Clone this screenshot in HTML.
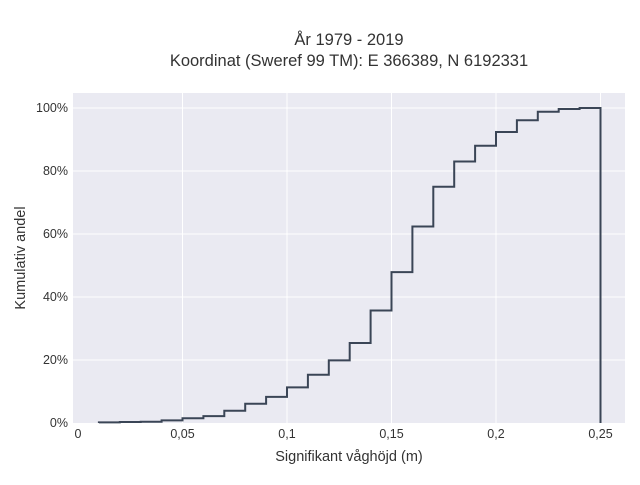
<!DOCTYPE html>
<html><head><meta charset="utf-8"><style>
body{margin:0;background:#fff;font-family:"Liberation Sans",sans-serif}
svg text{font-family:"Liberation Sans",sans-serif;fill:#333}
</style></head><body>
<svg id="chart" width="640" height="480" xmlns="http://www.w3.org/2000/svg">
<rect width="640" height="480" fill="#fff"/>
<text x="349" y="45" text-anchor="middle" font-size="16.5">År 1979 - 2019</text>
<text x="349" y="66" text-anchor="middle" font-size="16.5">Koordinat (Sweref 99 TM): E 366389, N 6192331</text>
<rect x="73" y="93" width="552" height="330" fill="#eaeaf2"/>
<g id="grid"></g><g id="ticks"></g>
<path id="step" fill="none" stroke="#3a4556" stroke-width="2"/>
<text x="349" y="461" text-anchor="middle" font-size="14.5">Signifikant våghöjd (m)</text>
<text transform="translate(25,258) rotate(-90)" text-anchor="middle" font-size="14.5">Kumulativ andel</text>
</svg>
<script>
const binStarts=[0.01,0.02,0.03,0.04,0.05,0.06,0.07,0.08,0.09,0.10,0.11,0.12,0.13,0.14,0.15,0.16,0.17,0.18,0.19,0.20,0.21,0.22,0.23,0.24];
const cumPct=[0.2,0.3,0.4,0.85,1.5,2.2,3.9,6.1,8.3,11.3,15.3,19.9,25.4,35.7,47.9,62.4,75.0,83.0,88.0,92.4,96.1,98.8,99.7,100];
const binWidth=0.01;
const xTicks=[0,0.05,0.1,0.15,0.2,0.25];
const xTickLabels=["0","0,05","0,1","0,15","0,2","0,25"];
const yTicks=[0,20,40,60,80,100];
const yTickLabels=["0%","20%","40%","60%","80%","100%"];
const X=v=>78+v*2090, Y=v=>423-v*3.15;
const ns="http://www.w3.org/2000/svg";
const grid=document.getElementById('grid'), ticks=document.getElementById('ticks');
function mk(t,a,p){const e=document.createElementNS(ns,t);for(const k in a)e.setAttribute(k,a[k]);p.appendChild(e);return e;}
xTicks.forEach((v,i)=>{
 if(v>0){const l=mk('line',{x1:X(v),x2:X(v),y1:93,y2:423,stroke:'#fff','stroke-width':1},grid);
 
 }
 const t=mk('text',{x:X(v),y:438,'text-anchor':'middle','font-size':12.5},ticks);t.textContent=xTickLabels[i];
 
 
});
yTicks.forEach((v,i)=>{
 if(v>0){const l=mk('line',{x1:73,x2:625,y1:Y(v),y2:Y(v),stroke:'#fff','stroke-width':1},grid);
 
 }
 const t=mk('text',{x:68,y:Y(v)+4,'text-anchor':'end','font-size':12.5},ticks);t.textContent=yTickLabels[i];
 
 
});
let d='M'+X(binStarts[0])+','+Y(0);
binStarts.forEach((s,i)=>{d+=' L'+X(s)+','+Y(cumPct[i])+' L'+X(s+binWidth)+','+Y(cumPct[i]);});
d+=' L'+X(binStarts[binStarts.length-1]+binWidth)+','+Y(0);
document.getElementById('step').setAttribute('d',d);
</script>
</body></html>
